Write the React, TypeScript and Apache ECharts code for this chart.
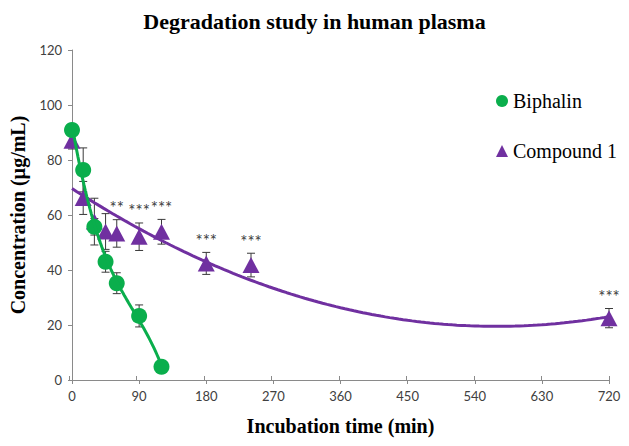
import React, { useEffect, useRef } from "react";
import * as echarts from "echarts";

// ---- data ----
const xTickMax = 720;
const xTickStep = 90;
const yTickMax = 120;
const yTickStep = 20;

const biphalinTimes = [0, 15, 30, 45, 60, 90, 120];
const biphalinMean = [90.9, 76.4, 55.7, 43.0, 35.2, 23.3, 4.8];
const biphalinSD = [1.5, 8.0, 3.0, 3.8, 3.8, 4.0, 1.5];

const compoundTimes = [0, 15, 30, 45, 60, 90, 120, 180, 240, 720];
const compoundMean = [87.0, 66.2, 57.6, 54.0, 53.3, 52.1, 53.9, 42.4, 41.8, 22.5];
const compoundSD = [3.0, 6.0, 8.5, 6.5, 5.0, 5.0, 4.5, 4.0, 4.3, 3.5];
const compoundSig = ["", "", "", "", "**", "***", "***", "***", "***", "***"];

// ---- polynomial least-squares trendline (as Excel does) ----
function polyFit(xs: number[], ys: number[], order: number): number[] {
  const n = order + 1;
  const A: number[][] = [];
  for (let i = 0; i < n; i++) {
    A.push(new Array(n + 1).fill(0));
  }
  for (let k = 0; k < xs.length; k++) {
    for (let i = 0; i < n; i++) {
      for (let j = 0; j < n; j++) A[i][j] += Math.pow(xs[k], i + j);
      A[i][n] += ys[k] * Math.pow(xs[k], i);
    }
  }
  for (let c = 0; c < n; c++) {
    let p = c;
    for (let r = c + 1; r < n; r++) if (Math.abs(A[r][c]) > Math.abs(A[p][c])) p = r;
    [A[c], A[p]] = [A[p], A[c]];
    for (let r = 0; r < n; r++) {
      if (r === c) continue;
      const f = A[r][c] / A[c][c];
      for (let j = c; j <= n; j++) A[r][j] -= f * A[c][j];
    }
  }
  return A.map((row, i) => row[n] / A[i][i]);
}

function trend(xs: number[], ys: number[], order: number, steps: number) {
  const coef = polyFit(xs, ys, order);
  const x0 = Math.min(...xs);
  const x1 = Math.max(...xs);
  const out: number[][] = [];
  for (let i = 0; i <= steps; i++) {
    const x = x0 + ((x1 - x0) * i) / steps;
    let y = 0;
    coef.forEach((c, k) => (y += c * Math.pow(x, k)));
    out.push([x, y]);
  }
  return out;
}

const GREEN = "#0AAE4C";
const PURPLE = "#7030A0";
const BAR = "#3a3a3a";
const SERIF = "'Liberation Serif', 'Times New Roman', serif";
const SANS = "Lato, 'Liberation Sans', sans-serif";

function errorSeries(times: number[], mean: number[], sd: number[]) {
  return {
    type: "custom",
    silent: true,
    z: 3,
    data: times.map((t, i) => [t, mean[i], sd[i]]),
    encode: { x: 0, y: 1 },
    renderItem: (params: any, api: any) => {
      const x = api.value(0);
      const y = api.value(1);
      const e = api.value(2);
      const top = api.coord([x, y + e]);
      const bot = api.coord([x, y - e]);
      const hw = 4;
      const st = { stroke: BAR, lineWidth: 1 };
      return {
        type: "group",
        children: [
          { type: "line", shape: { x1: top[0], y1: top[1], x2: bot[0], y2: bot[1] }, style: st },
          { type: "line", shape: { x1: top[0] - hw, y1: top[1], x2: top[0] + hw, y2: top[1] }, style: st },
          { type: "line", shape: { x1: bot[0] - hw, y1: bot[1], x2: bot[0] + hw, y2: bot[1] }, style: st },
        ],
      };
    },
  };
}

export default function App() {
  const ref = useRef<HTMLDivElement>(null);
  useEffect(() => {
    if (!ref.current) return;
    const chart = echarts.init(ref.current, null, { renderer: "svg" });
    const axisLine = { show: true, lineStyle: { color: "#8a8a8a", width: 1 } };
    const baseX = { type: "value", min: 0, max: xTickMax, interval: xTickStep, splitLine: { show: false } };
    const baseY = { type: "value", min: 0, max: yTickMax, interval: yTickStep, splitLine: { show: false } };
    chart.setOption({
      animation: false,
      backgroundColor: "#ffffff",
      title: {
        text: "Degradation study in human plasma",
        left: "center",
        top: 5,
        textStyle: { fontFamily: SERIF, fontWeight: "bold", fontSize: 22, color: "#000" },
      },
      legend: {
        orient: "vertical",
        left: 491,
        top: 86,
        itemWidth: 12,
        itemHeight: 12,
        itemGap: 30,
        textStyle: { fontFamily: SERIF, fontSize: 20, color: "#000" },
        data: [
          { name: "Biphalin", icon: "circle", itemStyle: { color: GREEN } },
          { name: "Compound 1", icon: "triangle", itemStyle: { color: PURPLE } },
        ],
      },
      grid: [
        { left: 69, right: 20, top: 50, bottom: 66 },
        { left: 69, right: 20, top: 50, bottom: 66 },
      ],
      xAxis: [
        {
          ...baseX,
          gridIndex: 0,
          name: "Incubation time (min)",
          nameLocation: "middle",
          nameGap: 36,
          nameTextStyle: { fontFamily: SERIF, fontWeight: "bold", fontSize: 20, color: "#000" },
          axisLine,
          axisTick: { show: true, length: 4, lineStyle: { color: "#8a8a8a" } },
          axisLabel: { margin: 9, fontFamily: SANS, fontSize: 13, color: "#404040" },
        },
        {
          ...baseX,
          gridIndex: 1,
          axisLine: { show: false },
          axisTick: { show: true, inside: true, length: 4, lineStyle: { color: "#8a8a8a" } },
          axisLabel: { show: false },
        },
      ],
      yAxis: [
        {
          ...baseY,
          gridIndex: 0,
          name: "Concentration (µg/mL)",
          nameLocation: "middle",
          nameGap: 44,
          nameTextStyle: { fontFamily: SERIF, fontWeight: "bold", fontSize: 20, color: "#000" },
          axisLine,
          axisTick: { show: true, length: 4, lineStyle: { color: "#8a8a8a" } },
          axisLabel: { margin: 10, fontFamily: SANS, fontSize: 13, color: "#404040" },
        },
        {
          ...baseY,
          gridIndex: 1,
          axisLine: { show: false },
          axisTick: { show: true, inside: true, length: 4, lineStyle: { color: "#8a8a8a" } },
          axisLabel: { show: false },
        },
      ],
      series: [
        errorSeries(compoundTimes, compoundMean, compoundSD),
        {
          name: "Compound 1",
          type: "scatter",
          symbol: "triangle",
          symbolSize: [17, 16],
          itemStyle: { color: PURPLE, opacity: 1 },
          z: 4,
          data: compoundTimes.map((t, i) => [t, compoundMean[i]]),
        },
        errorSeries(biphalinTimes, biphalinMean, biphalinSD),
        {
          name: "Biphalin",
          type: "scatter",
          symbol: "circle",
          symbolSize: 16,
          itemStyle: { color: GREEN, opacity: 1 },
          z: 5,
          data: biphalinTimes.map((t, i) => [t, biphalinMean[i]]),
        },
        {
          name: "Compound 1 trend",
          type: "line",
          showSymbol: false,
          symbol: "none",
          silent: true,
          z: 6,
          lineStyle: { color: PURPLE, width: 3 },
          data: trend(compoundTimes, compoundMean, 2, 120),
        },
        {
          name: "Biphalin trend",
          type: "line",
          showSymbol: false,
          symbol: "none",
          silent: true,
          z: 7,
          lineStyle: { color: GREEN, width: 3 },
          data: trend(biphalinTimes, biphalinMean, 3, 60),
        },
        {
          type: "custom",
          silent: true,
          z: 8,
          data: compoundTimes.map((t, i) => [t, compoundMean[i], compoundSD[i]]),
          encode: { x: 0, y: 1 },
          renderItem: (params: any, api: any) => {
            const label = compoundSig[params.dataIndex];
            if (!label) return null;
            const x = api.value(0);
            const top = api.coord([x, api.value(1) + api.value(2)]);
            return {
              type: "text",
              x: top[0],
              y: top[1] - 12,
              style: {
                text: label,
                textAlign: "center",
                textVerticalAlign: "middle",
                fontFamily: SANS,
                fontSize: 17,
                fill: "#404040",
              },
            };
          },
        },
      ],
    });
    return () => chart.dispose();
  }, []);
  return <div ref={ref} style={{ width: 629, height: 446, position: "absolute", left: 0, top: 0 }} />;
}
